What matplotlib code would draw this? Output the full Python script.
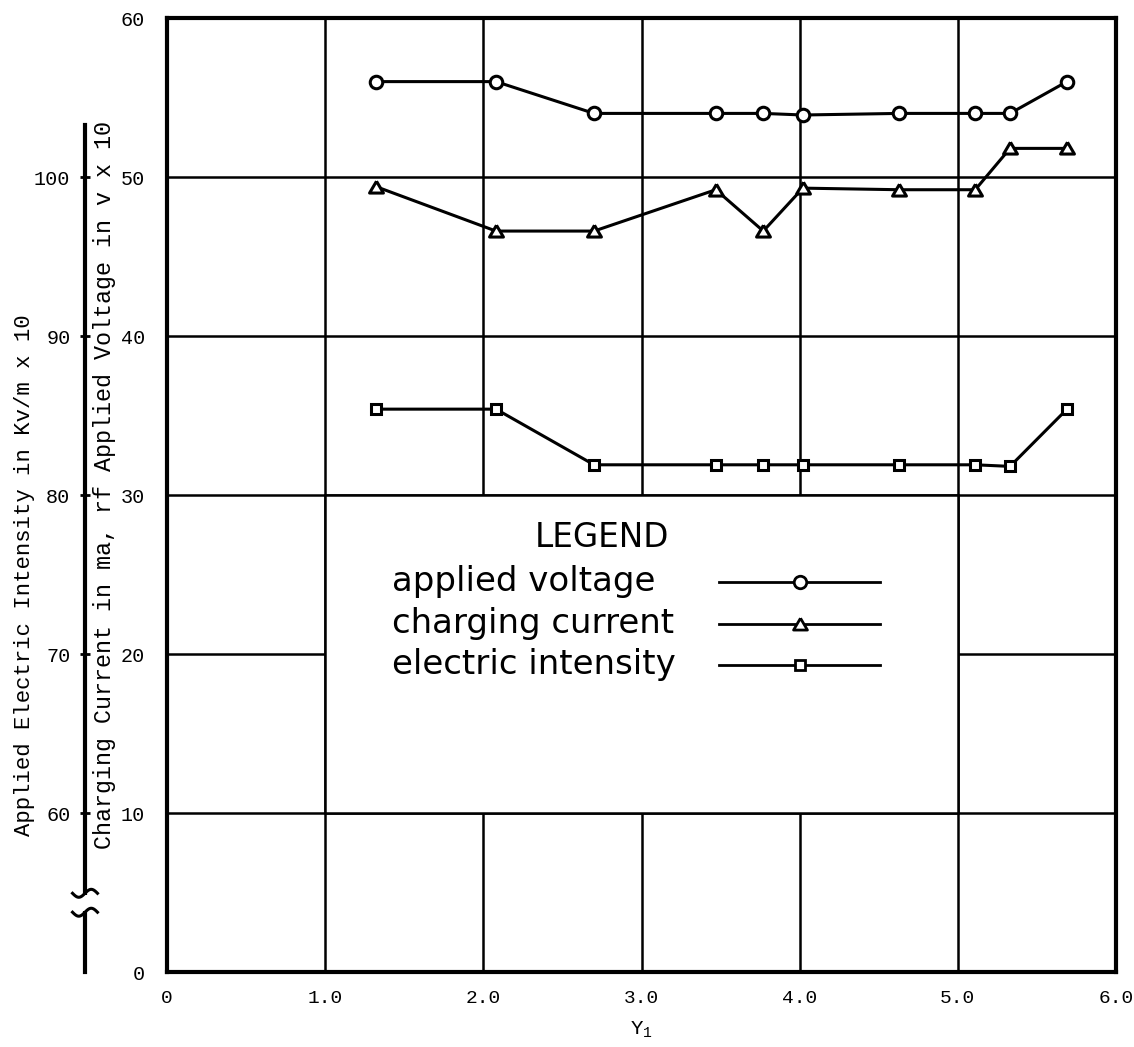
import matplotlib
matplotlib.use('Agg')
import matplotlib.pyplot as plt
from matplotlib.patches import Rectangle
from matplotlib.lines import Line2D
from matplotlib import transforms
import numpy as np

plt.rcParams['font.family'] = ['Liberation Mono', 'DejaVu Sans']
plt.rcParams['mathtext.default'] = 'regular'

# gamma_1 values (same stations for all three runs)
gamma = [1.32, 2.08, 2.70, 3.47, 3.77, 4.02, 4.63, 5.11, 5.33, 5.69]
# rf applied voltage, v x 10
voltage = [56.0, 56.0, 54.0, 54.0, 54.0, 53.9, 54.0, 54.0, 54.0, 56.0]
# charging current, ma
current = [49.4, 46.6, 46.6, 49.2, 46.6, 49.3, 49.2, 49.2, 51.8, 51.8]
# electric intensity on left scale, plotted against the 0-60 axis
intensity = [35.4, 35.4, 31.9, 31.9, 31.9, 31.9, 31.9, 31.9, 31.8, 35.4]

x_ticks = [0, 1, 2, 3, 4, 5, 6]
x_labels = ['0', '1.0', '2.0', '3.0', '4.0', '5.0', '6.0']
y_ticks = [0, 10, 20, 30, 40, 50, 60]
sec_ticks = [60, 70, 80, 90, 100]

fig = plt.figure(figsize=(11.34, 10.47), dpi=100)
ax = fig.add_axes([0.14727, 0.07163, 0.83686, 0.91117])
ax.set_xlim(0, 6)
ax.set_ylim(0, 60)
ax.set_xticks(x_ticks)
ax.set_xticklabels(x_labels)
ax.set_yticks(y_ticks)
ax.tick_params(axis='x', length=0, pad=13, labelsize=14)
ax.tick_params(axis='y', length=0, pad=16, labelsize=14.5)
for s in ax.spines.values():
    s.set_linewidth(3)
ax.set_axisbelow(True)
ax.grid(True, color='black', linewidth=1.8)

# legend panel blanks the grid inside it
ax.add_patch(Rectangle((1, 10), 4, 20, facecolor='white', edgecolor='black',
                       linewidth=1.8, zorder=1))

tri = [(0, 0.9), (-1, -0.8), (1, -0.8), (0, 0.9)]
ax.plot(gamma, voltage, color='black', lw=2.2, marker='o', ms=9, mew=2.2,
        mfc='white', zorder=3)
ax.plot(gamma, current, color='black', lw=2.2, marker=tri, ms=10, mew=2.2,
        mfc='white', zorder=3)
ax.plot(gamma, intensity, color='black', lw=2.2, marker='s', ms=6.5, mew=2.2,
        mfc='white', zorder=3)

# hand made legend
ax.text(2.75, 26.76, 'LEGEND', family='DejaVu Sans', fontsize=23.5,
        ha='center', va='baseline', zorder=4)
rows = [('applied voltage', 'o', 9, 23.95),
        ('charging current', tri, 10, 21.35),
        ('electric intensity', 's', 6.5, 18.75)]
for lab, mk, ms, yb in rows:
    ax.text(1.42, yb, lab, family='DejaVu Sans', fontsize=24.5,
            ha='left', va='baseline', zorder=4)
    ax.plot([3.49, 4.51], [yb + 0.55, yb + 0.55], color='black', lw=2, zorder=4)
    ax.plot([4.0], [yb + 0.55], marker=mk, ms=ms, mew=2, mfc='white',
            color='black', zorder=5)

ax.set_xlabel('Y$_1$', fontsize=15, labelpad=9)

# second scale, electric intensity in Kv/m x 10
sec = ax.secondary_yaxis(-0.0864, functions=(lambda y: y + 50, lambda y: y - 50))
sec.set_yticks(sec_ticks)
sec.spines['left'].set_linewidth(3)
sec.spines['left'].set_bounds(50, 103.3)
sec.tick_params(axis='y', direction='inout', length=7, width=2, pad=7,
                labelsize=14.5)

# axis break on the second scale
tr = transforms.blended_transform_factory(fig.transFigure, ax.transData)
xs = 85 / 1134
fig.add_artist(Rectangle((xs - 0.006, 3.85), 0.012, 1.0, transform=tr,
                         facecolor='white', edgecolor='none', zorder=5))
u = np.linspace(-1, 1, 30)
for yb in [3.76, 4.95]:
    fig.add_artist(Line2D(xs + u * 0.011, yb + 0.25 * np.sin(np.pi * u),
                          transform=tr, color='black', lw=2.2, zorder=6))

ax.text(-0.066, 0.51, 'Charging Current in ma, rf Applied Voltage in v x 10',
        transform=ax.transAxes, rotation=90, ha='center', va='center',
        fontsize=16.8)
ax.text(-0.150, 0.416, 'Applied Electric Intensity in Kv/m x 10',
        transform=ax.transAxes, rotation=90, ha='center', va='center',
        fontsize=16)

plt.savefig('out.png', dpi=100)
plt.close()
